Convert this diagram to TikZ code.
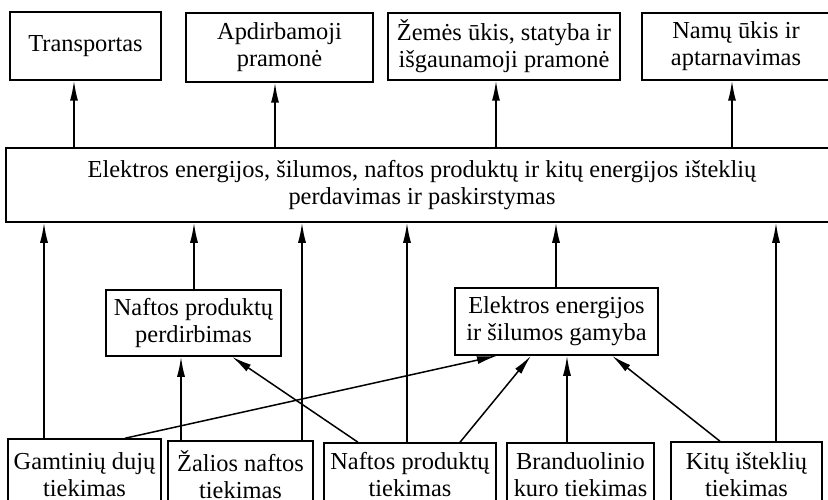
\documentclass[tikz,border=0pt]{standalone}
\usepackage{fontspec}
\setmainfont{Liberation Serif}
\usetikzlibrary{arrows.meta,positioning}

\begin{document}
\begin{tikzpicture}[x=1pt,y=-1pt,>={Latex[length=20pt,width=8pt]},line width=1.5pt,
    blokas/.style={draw,inner sep=0pt,align=center,font=\fontsize{24.4}{27}\selectfont}]

    \useasboundingbox (0,0) rectangle (828,500);

    % vartotojai
    \node[blokas,minimum width=151,minimum height=68] (trans) at (85.5,46) {Transportas};
    \node[blokas,minimum width=187,minimum height=69] (apdir) at (279.5,47.5) {Apdirbamoji\\pramonė};
    \node[blokas,minimum width=232,minimum height=67] (zemes) at (504,46.5) {Žemės ūkis, statyba ir\\išgaunamoji pramonė};
    \node[blokas,minimum width=188,minimum height=67] (namu) at (736,46.5) {Namų ūkis ir\\aptarnavimas};

    \node[blokas,minimum width=832,minimum height=74] (skirst) at (422,185)
        {Elektros energijos, šilumos, naftos produktų ir kitų energijos išteklių\\perdavimas ir paskirstymas};

    % transformacija
    \node[blokas,minimum width=175,minimum height=66] (perdirb) at (193.5,323) {Naftos produktų\\perdirbimas};
    \node[blokas,minimum width=203,minimum height=67] (gamyba) at (556.5,321.5) {Elektros energijos\\ir šilumos gamyba};

    % tiekimas
    \node[blokas,minimum width=153,minimum height=72] (dujos) at (84.5,475) {Gamtinių dujų\\tiekimas};
    \node[blokas,minimum width=145,minimum height=68] (nafta) at (240.5,475) {Žalios naftos\\tiekimas};
    \node[blokas,minimum width=172,minimum height=64] (produktai) at (410,475) {Naftos produktų\\tiekimas};
    \node[blokas,minimum width=147,minimum height=64] (branduol) at (580.5,475) {Branduolinio\\kuro tiekimas};
    \node[blokas,minimum width=151,minimum height=66] (kiti) at (746.5,475) {Kitų išteklių\\tiekimas};

    % paskirstymas -> vartotojai
    \draw[->] ([xshift=-11.5]trans.south |- skirst.north) -- ([xshift=-11.5]trans.south);
    \draw[->] ([xshift=-4.5]apdir.south |- skirst.north) -- ([xshift=-4.5]apdir.south);
    \draw[->] ([xshift=-8]zemes.south |- skirst.north) -- ([xshift=-8]zemes.south);
    \draw[->] ([xshift=-4]namu.south |- skirst.north) -- ([xshift=-4]namu.south);

    % -> paskirstymas
    \draw[->] ([xshift=-40.5]dujos.north) -- ([xshift=-40.5]dujos.north |- skirst.south);
    \draw[->] ([xshift=0.5]perdirb.north) -- ([xshift=0.5]perdirb.north |- skirst.south);
    \draw[->] ([xshift=61.5]nafta.north) -- ([xshift=61.5]nafta.north |- skirst.south);
    \draw[->] ([xshift=-3]produktai.north) -- ([xshift=-3]produktai.north |- skirst.south);
    \draw[->] ([xshift=-0.5]gamyba.north) -- ([xshift=-0.5]gamyba.north |- skirst.south);
    \draw[->] ([xshift=29.5]kiti.north) -- ([xshift=29.5]kiti.north |- skirst.south);

    % -> perdirbimas
    \draw[->] ([xshift=-59.5]nafta.north) -- ([xshift=-59.5]nafta.north |- perdirb.south);
    \draw[->] ([xshift=-52]produktai.north) -- ([xshift=38.5]perdirb.south);

    % -> gamyba
    \draw[->] ([xshift=40.5]dujos.north) -- ([xshift=-59.5]gamyba.south);
    \draw[->] ([xshift=50]produktai.north) -- ([xshift=-25.5]gamyba.south);
    \draw[->] ([xshift=-13.5]branduol.north) -- ([xshift=-13.5]branduol.north |- gamyba.south);
    \draw[->] ([xshift=-26.5]kiti.north) -- ([xshift=55.5]gamyba.south);

\end{tikzpicture}
\end{document}
